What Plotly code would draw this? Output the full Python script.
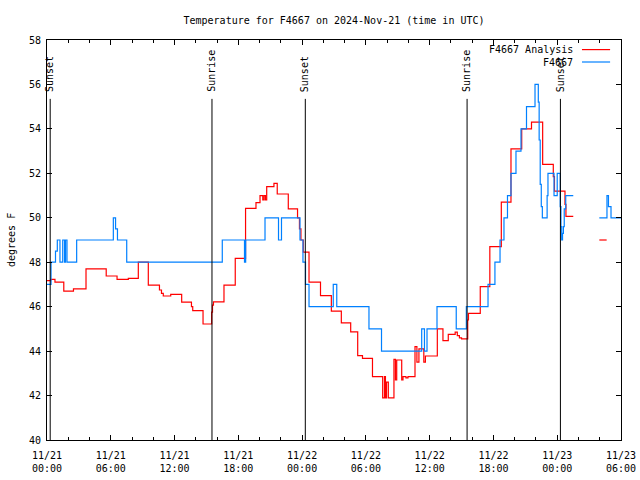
import pandas as pd
import plotly.graph_objects as go

# ---------------- data ----------------
base_time = "2024-11-21 00:00"
x_start = "2024-11-21 00:00"
x_end = "2024-11-23 06:00"

# Observations (F4667): hours since base_time, degrees F (step series)
obs_hours = [0.0, 0.38, 0.8, 0.97, 1.22, 1.48, 1.65, 1.74, 1.88, 2.79,
             6.24, 6.45, 6.63, 7.5, 16.49, 18.58, 18.69, 20.51, 21.78, 22.06,
             23.8, 24.08, 24.32, 24.65, 26.93, 27.26, 30.29, 31.47, 35.25, 35.51,
             35.75, 36.69, 38.5, 39.45, 41.49, 42.14, 42.62, 42.99, 43.32, 43.65,
             44.12, 44.59, 45.11, 45.91, 46.22, 46.3, 46.4, 46.5, 46.6, 47.05,
             47.13, 47.7, 48.0, 48.28, 48.35, 48.42, 48.5, 48.58, 48.66, 48.8,
             49.51, 49.55, 51.96, 52.68, 52.82, 53.06, 54.0]
obs_temp = [47, 48, 48.5, 49, 48, 49, 48, 49, 48, 49,
            50, 49.5, 49, 48, 49, 48, 49, 50, 49, 50,
            49, 48, 47, 46, 47, 46, 45, 44, 45, 44,
            45, 46, 45, 46, 47, 48, 49, 50, 51, 52,
            53, 54, 55, 56, 55.2, 53.5, 51.5, 50.5, 50, 51,
            52, 51, 52, 50.5, 49.6, 49.0, 49.3, 49.6, 50.4, 51,
            51, None, 50, 51, 50.5, 50, 50]

# Analysis (F4667 Analysis)
ana_hours = [0.0, 0.35, 0.75, 1.58, 2.49, 3.67, 5.57, 6.59, 7.65, 8.59,
             9.53, 10.58, 10.77, 10.94, 11.64, 12.67, 13.59, 13.71, 14.68, 15.49,
             15.57, 15.66, 16.65, 17.71, 18.68, 19.66, 20.04, 20.3, 20.42, 20.55,
             20.67, 21.35, 21.66, 22.7, 23.57, 23.75, 23.89, 24.11, 24.65, 25.73,
             26.75, 27.69, 28.57, 29.23, 29.68, 30.62, 31.58, 31.75, 31.84, 31.94,
             32.11, 32.64, 32.78, 32.9, 33.37, 33.49, 33.77, 33.96, 34.62, 34.8,
             34.99, 35.45, 35.6, 36.72, 37.25, 37.75, 38.4, 38.6, 38.8, 39.0,
             39.58, 39.65, 40.76, 41.66, 42.74, 43.65, 44.66, 45.58, 46.63, 47.63,
             47.74, 48.73, 48.82, 49.51, 49.55, 51.96, 52.65, 52.7]
ana_temp = [47.17, 47.23, 47.1, 46.7, 46.8, 47.7, 47.38, 47.23, 47.27, 48.0,
            46.97, 46.75, 46.6, 46.48, 46.55, 46.2, 46.0, 45.82, 45.22, 45.75,
            46.07, 46.22, 46.97, 48.17, 50.42, 50.68, 51.0, 50.8, 51.0, 50.8,
            51.4, 51.55, 51.07, 50.4, 50.0, 49.5, 49.0, 48.45, 47.1, 46.5,
            45.8, 45.27, 44.87, 43.8, 43.67, 42.85, 41.9, 42.85, 41.9, 42.6,
            41.9, 43.63, 42.7, 43.6, 42.7, 42.85, 42.8, 42.85, 44.2, 43.5,
            44.1, 43.5, 43.78, 45.0, 44.47, 44.75, 44.85, 44.7, 44.6, 44.55,
            45.4, 45.7, 46.9, 48.7, 50.7, 53.1, 54.0, 54.3, 52.4, 51.85,
            51.2, 50.6, 50.06, 50.06, None, 49.0, 49.0, None]

event_hours = [0.3, 15.52, 24.3, 39.52, 48.3]
event_labels = ["Sunset", "Sunrise", "Sunset", "Sunrise", "Sunset"]

tick_hours = [0, 6, 12, 18, 24, 30, 36, 42, 48, 54]
tick_labels = ["11/21<br>00:00", "11/21<br>06:00", "11/21<br>12:00", "11/21<br>18:00",
               "11/22<br>00:00", "11/22<br>06:00", "11/22<br>12:00", "11/22<br>18:00",
               "11/23<br>00:00", "11/23<br>06:00"]

title_text = "Temperature for F4667 on 2024-Nov-21 (time in UTC)"
ylabel = "degrees F"
names = ["F4667 Analysis", "F4667"]
colors = ["#ff0000", "#0080ff"]

# ---------------- build ----------------
t0 = pd.Timestamp(base_time)
to_time = lambda hs: [t0 + pd.to_timedelta(h, unit="h") for h in hs]

FONT = "DejaVu Sans Mono"
fig = go.Figure()
fig.add_trace(go.Scatter(x=to_time(ana_hours), y=ana_temp, mode="lines",
                         line=dict(color=colors[0], width=1.2, shape="hv"),
                         name=names[0], connectgaps=False))
fig.add_trace(go.Scatter(x=to_time(obs_hours), y=obs_temp, mode="lines",
                         line=dict(color=colors[1], width=1.2, shape="hv"),
                         name=names[1], connectgaps=False))

for h, lab in zip(event_hours, event_labels):
    t = t0 + pd.to_timedelta(h, unit="h")
    fig.add_shape(type="line", xref="x", yref="y", x0=t, x1=t, y0=40, y1=55.35,
                  line=dict(color="black", width=1))
    fig.add_annotation(x=t, y=55.62, xref="x", yref="y", text=lab, textangle=-90,
                       showarrow=False, xanchor="center", yanchor="bottom",
                       borderpad=0, font=dict(family=FONT, size=10, color="black"))

# legend drawn gnuplot-style (text then sample)
leg_y = [0.976, 0.945]
for name, col, yy in zip(names, colors, leg_y):
    fig.add_annotation(x=0.9199, y=yy, xref="paper", yref="paper", text=name,
                       showarrow=False, xanchor="right", yanchor="middle",
                       font=dict(family=FONT, size=10, color="black"))
    fig.add_shape(type="line", xref="paper", yref="paper", x0=0.932, x1=0.981,
                  y0=yy, y1=yy, line=dict(color=col, width=1.2))

fig.add_annotation(x=-0.0627, y=0.5, xref="paper", yref="paper", text=ylabel,
                   textangle=-90, showarrow=False, xanchor="center", yanchor="middle",
                   font=dict(family=FONT, size=10, color="black"))

fig.update_layout(
    width=640, height=480,
    margin=dict(l=47, r=19, t=40, b=40, autoexpand=False),
    paper_bgcolor="white", plot_bgcolor="white",
    showlegend=False,
    font=dict(family=FONT, size=10, color="black"),
    title=dict(text=title_text, x=0.5, xref="paper", xanchor="center",
               y=1 - 20 / 480, yref="container", yanchor="middle",
               font=dict(family=FONT, size=10, color="black")),
)
fig.update_xaxes(
    type="date", range=[x_start, x_end], automargin=False,
    tickvals=to_time(tick_hours), ticktext=tick_labels,
    ticks="inside", ticklen=5, tickcolor="black",
    minor=dict(dtick=2 * 3600 * 1000, tick0=x_start, ticks="inside", ticklen=3,
               tickcolor="black", showgrid=False),
    showline=True, linecolor="black", linewidth=1, mirror="allticks",
    showgrid=False, zeroline=False, ticklabelstandoff=6,
    tickfont=dict(family=FONT, size=10, color="black"),
)
fig.update_yaxes(
    range=[40, 58], dtick=2, tick0=40, automargin=False,
    ticks="inside", ticklen=5, tickcolor="black",
    showline=True, linecolor="black", linewidth=1, mirror="allticks",
    showgrid=False, zeroline=False, ticklabelstandoff=3,
    tickfont=dict(family=FONT, size=10, color="black"),
)

fig.write_html("out.html", config={"displayModeBar": False},
               post_script="document.body.style.margin='0';")
